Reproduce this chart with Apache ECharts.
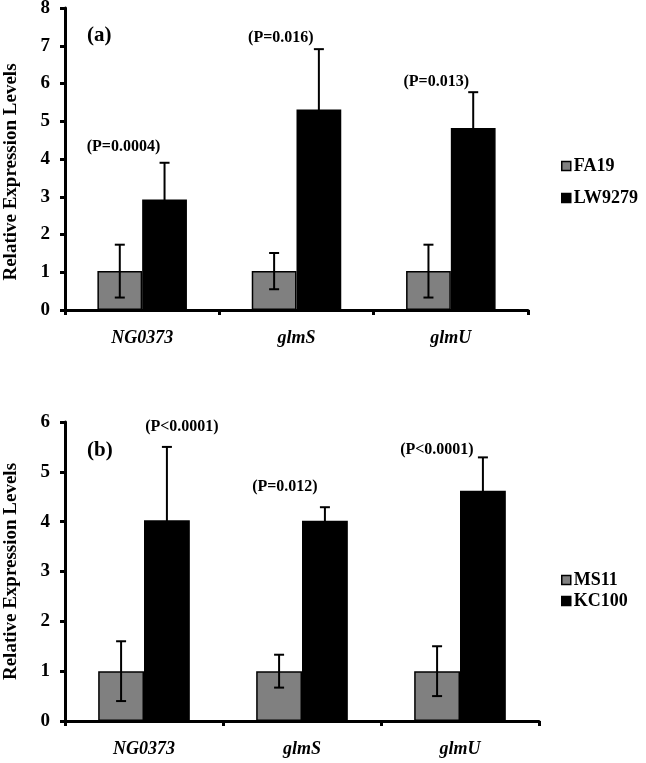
<!DOCTYPE html>
<html>
<head>
<meta charset="utf-8">
<script src="https://cdn.jsdelivr.net/npm/echarts@6/dist/echarts.min.js"></script>
<style>
  html, body { margin: 0; padding: 0; background: #fff; }
  #main { width: 646px; height: 763px; }
</style>
</head>
<body>
<div id="main"></div>
<script>
// genes on the x axis (both panels)
var genes = ['NG0373', 'glmS', 'glmU'];

// panel (a)
var fa19 = [1.03, 1.03, 1.03];
var fa19Err = [0.70, 0.48, 0.70];
var lw9279 = [2.93, 5.31, 4.82];
var lw9279Err = [0.97, 1.60, 0.95];
var pA = ['(P=0.0004)', '(P=0.016)', '(P=0.013)'];

// panel (b)
var ms11 = [1.0, 1.0, 1.0];
var ms11Err = [0.60, 0.33, 0.50];
var kc100 = [4.03, 4.02, 4.62];
var kc100Err = [1.47, 0.27, 0.67];
var pB = ['(P<0.0001)', '(P=0.012)', '(P<0.0001)'];

// label offsets from the top of the black bar's error bar (px)
var pOffA = [[-41, -16], [-38, -11], [-37, -10]];
var pOffB = [[15, -20], [-40, -20], [-46, -8]];

var FONT = '"Liberation Serif", "Times New Roman", serif';
var BAR_W = 0.29;

var myChart = echarts.init(document.getElementById('main'));

// error bar drawn over a bar; side = -1 for left bar, +1 for right bar
function errorSeries(vals, errs, gi, side) {
  return {
    type: 'custom',
    xAxisIndex: gi,
    yAxisIndex: gi,
    z: 10,
    silent: true,
    data: vals.map(function (v, i) { return [i, v, errs[i]]; }),
    renderItem: function (params, api) {
      var i = api.value(0), v = api.value(1), e = api.value(2);
      var w = api.size([1, 0])[0] * BAR_W;
      var top = api.coord([i, v + e]);
      var bot = api.coord([i, v - e]);
      var x = top[0] + side * w / 2;
      var st = { stroke: '#000', lineWidth: 2 };
      return {
        type: 'group',
        children: [
          { type: 'line', shape: { x1: x, y1: top[1], x2: x, y2: bot[1] }, style: st },
          { type: 'line', shape: { x1: x - 5, y1: top[1], x2: x + 5, y2: top[1] }, style: st },
          { type: 'line', shape: { x1: x - 5, y1: bot[1], x2: x + 5, y2: bot[1] }, style: st }
        ]
      };
    }
  };
}

// p-value text above the right bar's error bar
function pSeries(vals, errs, texts, offs, gi) {
  return {
    type: 'custom',
    xAxisIndex: gi,
    yAxisIndex: gi,
    z: 11,
    silent: true,
    data: vals.map(function (v, i) { return [i, v + errs[i]]; }),
    renderItem: function (params, api) {
      var i = api.value(0);
      var w = api.size([1, 0])[0] * BAR_W;
      var p = api.coord([i, api.value(1)]);
      return {
        type: 'text',
        style: {
          x: p[0] + w / 2 + offs[i][0],
          y: p[1] + offs[i][1],
          text: texts[i],
          align: 'center',
          verticalAlign: 'middle',
          font: 'bold 16px ' + FONT,
          fill: '#000'
        }
      };
    }
  };
}

function xAxisOpt(gi) {
  return {
    type: 'category',
    gridIndex: gi,
    data: genes,
    axisLine: { lineStyle: { color: '#000', width: 3 } },
    axisTick: { show: true, length: 5, lineStyle: { color: '#000', width: 3 } },
    axisLabel: {
      margin: 19,
      color: '#000',
      fontFamily: FONT,
      fontSize: 18,
      fontWeight: 'bold',
      fontStyle: 'italic'
    }
  };
}

function yAxisOpt(gi, max, shift) {
  return {
    type: 'value',
    gridIndex: gi,
    min: 0,
    max: max,
    interval: 1,
    name: 'Relative Expression Levels',
    nameLocation: 'middle',
    nameRotate: 90,
    nameGap: 44,
    nameTextStyle: {
      color: '#000', fontFamily: FONT, fontSize: 19, fontWeight: 'bold',
      padding: [0, shift, 0, 0]
    },
    axisLine: { show: true, lineStyle: { color: '#000', width: 3 } },
    axisTick: { show: true, length: 5, lineStyle: { color: '#000', width: 3 } },
    splitLine: { show: false },
    axisLabel: {
      margin: 15,
      color: '#000',
      fontFamily: FONT,
      fontSize: 19,
      fontWeight: 'bold'
    }
  };
}

function barSeries(name, vals, color, gi) {
  return {
    type: 'bar',
    name: name,
    xAxisIndex: gi,
    yAxisIndex: gi,
    data: vals,
    barWidth: (BAR_W * 100) + '%',
    barGap: '0%',
    itemStyle: { color: color, borderColor: '#000', borderWidth: 1.5 }
  };
}

function legendOpt(names, top, gap) {
  return {
    data: names,
    orient: 'vertical',
    left: 556,
    top: top,
    itemGap: gap,
    itemWidth: 9,
    itemHeight: 9,
    icon: 'rect',
    itemStyle: { borderColor: '#000', borderWidth: 1.5 },
    textStyle: { color: '#000', fontFamily: FONT, fontSize: 18, fontWeight: 'bold', padding: [0, 0, 0, -2] }
  };
}

var option = {
  animation: false,
  textStyle: { fontFamily: FONT },
  title: [
    { text: '(a)', left: 82, top: 20, textStyle: { fontFamily: FONT, fontSize: 21, fontWeight: 'bold', color: '#000' } },
    { text: '(b)', left: 82, top: 435, textStyle: { fontFamily: FONT, fontSize: 21, fontWeight: 'bold', color: '#000' } }
  ],
  legend: [
    legendOpt(['FA19', 'LW9279'], 152, 14),
    legendOpt(['MS11', 'KC100'], 566, 3)
  ],
  grid: [
    { left: 65, top: 8, width: 463, height: 302, containLabel: false, outerBoundsMode: 'none' },
    { left: 65, top: 422, width: 474, height: 299, containLabel: false, outerBoundsMode: 'none' }
  ],
  xAxis: [xAxisOpt(0), xAxisOpt(1)],
  yAxis: [yAxisOpt(0, 8, 26), yAxisOpt(1, 6, 0)],
  series: [
    barSeries('FA19', fa19, '#808080', 0),
    barSeries('LW9279', lw9279, '#000000', 0),
    errorSeries(fa19, fa19Err, 0, -1),
    errorSeries(lw9279, lw9279Err, 0, 1),
    pSeries(lw9279, lw9279Err, pA, pOffA, 0),
    barSeries('MS11', ms11, '#808080', 1),
    barSeries('KC100', kc100, '#000000', 1),
    errorSeries(ms11, ms11Err, 1, -1),
    errorSeries(kc100, kc100Err, 1, 1),
    pSeries(kc100, kc100Err, pB, pOffB, 1)
  ]
};

myChart.setOption(option);
</script>
</body>
</html>
